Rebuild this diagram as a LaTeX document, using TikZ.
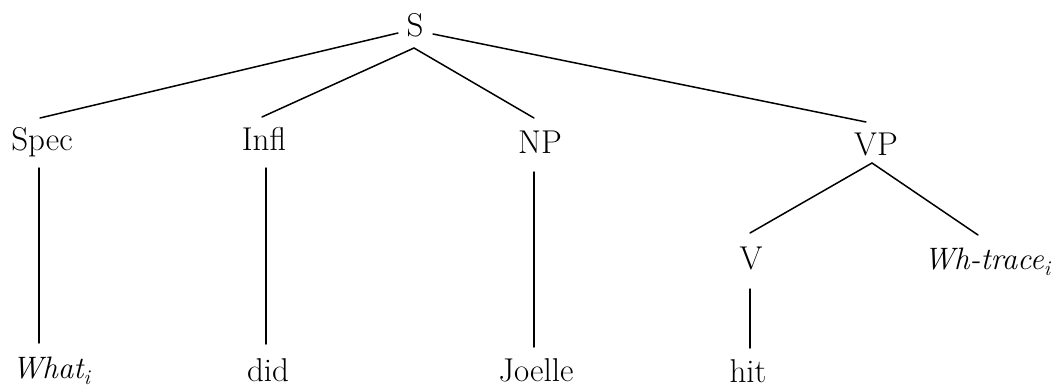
\documentclass[tikz,border=0pt]{standalone}
\usepackage{fontspec}
\usetikzlibrary{calc}
% italic index set lowered after a word
\newcommand{\idx}[1]{\raisebox{-0.2em}{\fontsize{21}{24}\selectfont\itshape #1}}
\begin{document}
\begin{tikzpicture}[x=1pt,y=-1pt,
  every node/.style={font=\fontsize{33}{38}\selectfont, inner sep=0pt, anchor=base},
  trace/.style={font=\fontsize{31}{36}\selectfont\itshape},
  branch/.style={line width=1.5pt, line cap=round}]
  \useasboundingbox (0,0) rectangle (1058,388);

  % labels
  \node (S)      at (415,36)  {S};
  \node (Spec)   at (42,150)  {Spec};
  \node (Infl)   at (264,150) {Infl};
  \node (NP)     at (540,153) {NP};
  \node (VP)     at (876,155) {VP};
  \node (V)      at (751,269) {V};
  \node[trace] (Wh)   at (987,269) {Wh-trace\idx{i}};
  \node[trace] (What) at (51,378)  {What\idx{i}};
  \node (did)    at (268,381) {did};
  \node (Joelle) at (536,381) {Joelle};
  \node (hit)    at (748,382) {hit};

  % branches
  \draw[branch] ($(S.base)+(-17,-3)$) -- ($(Spec.base)+(-2,-32)$);
  \draw[branch] ($(S.base)+(-1,12)$)  -- ($(Infl.base)+(-2,-33)$);
  \draw[branch] ($(S.base)+(-1,12)$)  -- ($(NP.base)+(-6,-35)$);
  \draw[branch] ($(S.base)+(18,-2)$)  -- ($(VP.base)+(-10,-33)$);
  \draw[branch] ($(Spec.base)+(-3,18)$) -- ($(What.base)+(-12,-35)$);
  \draw[branch] ($(Infl.base)+(2,18)$)  -- ($(did.base)+(-2,-37)$);
  \draw[branch] ($(NP.base)+(-6,19)$)   -- ($(Joelle.base)+(-2,-34)$);
  \draw[branch] ($(VP.base)+(-4,8)$)    -- ($(V.base)+(-1,-36)$);
  \draw[branch] ($(VP.base)+(-4,8)$)    -- ($(Wh.base)+(-9,-34)$);
  \draw[branch] ($(V.base)+(-1,20)$)    -- ($(hit.base)+(2,-34)$);
\end{tikzpicture}
\end{document}
